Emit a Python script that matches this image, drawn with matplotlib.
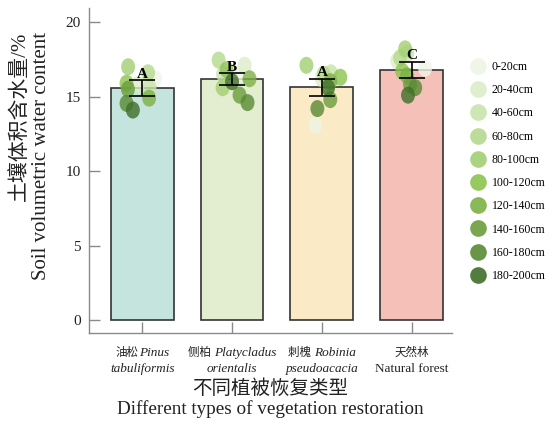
import matplotlib
matplotlib.use('Agg')
import matplotlib.pyplot as plt
import numpy as np
from matplotlib.path import Path
from matplotlib.transforms import Affine2D, blended_transform_factory
from matplotlib.lines import Line2D
from matplotlib.offsetbox import TextArea, HPacker, VPacker, AnnotationBbox

# ---------------- data ----------------
cn_names = ['油松', '侧柏 ', '刺槐 ', '天然林']
latin_line1 = ['Pinus', 'Platycladus', 'Robinia', '']
latin_line2 = ['tabuliformis', 'orientalis', 'pseudoacacia', 'Natural forest']
means = [15.57, 16.17, 15.64, 16.78]
errors = [0.53, 0.42, 0.57, 0.56]
letters = ['A', 'B', 'A', 'C']
depths = ['0-20cm', '20-40cm', '40-60cm', '60-80cm', '80-100cm',
          '100-120cm', '120-140cm', '140-160cm', '160-180cm', '180-200cm']
# soil water content by depth (same order as depths)
pinus = [16.2, 15.8, 15.6, 16.6, 17.0, 15.9, 14.9, 15.5, 14.55, 14.1]
platycladus = [16.4, 17.1, 16.5, 17.45, 15.6, 16.8, 16.2, 15.1, 14.6, 16.0]
robinia = [13.1, 16.2, 16.6, 16.5, 17.1, 16.3, 16.0, 14.8, 14.2, 15.6]
natural = [16.9, 17.4, 17.9, 17.6, 18.2, 16.7, 16.4, 15.8, 15.6, 15.1]
yticks = [0, 5, 10, 15, 20]

# ---------------- styles ----------------
bar_colors = ['#c5e4dd', '#e3edcf', '#faeac6', '#f5c0b8']
depth_colors = ['#eef5e6', '#dcedc8', '#c9e4ab', '#b5da8e', '#a2d072',
                '#8cc350', '#7cb145', '#6a9d3c', '#588a33', '#3f6f29']
# horizontal jitter of points (fraction of category spacing)
jitters = [
    [0.139, -0.05, 0.08, 0.064, -0.158, -0.176, 0.076, -0.16, -0.176, -0.105],
    [0.05, 0.139, -0.10, -0.15, -0.105, -0.06, 0.194, 0.083, 0.172, 0.0],
    [-0.072, 0.0, 0.10, 0.02, -0.172, 0.206, 0.094, 0.094, -0.05, 0.07],
    [0.15, -0.16, -0.05, -0.128, -0.072, -0.105, -0.05, -0.017, 0.04, -0.04],
]
series = [pinus, platycladus, robinia, natural]

SERIF = 'Liberation Serif'
CJK = 'Noto Sans CJK SC'
MIX = [SERIF, CJK]

W, H = 549, 423
fig = plt.figure(figsize=(W / 100, H / 100), dpi=100)
ax = fig.add_axes([89 / W, 1 - 333 / H, (452 - 89) / W, (333 - 8) / H])

x = np.arange(len(means))
ax.bar(x, means, width=0.7, color=bar_colors, edgecolor='#333333',
       linewidth=1.2, zorder=1)

ell = Path.unit_circle().transformed(Affine2D().scale(0.82, 1.0))
for i, vals in enumerate(series):
    xs = x[i] + np.array(jitters[i])
    ax.scatter(xs, vals, s=150, marker=ell, c=depth_colors, alpha=0.8,
               linewidths=0, zorder=2)

ax.errorbar(x, means, yerr=errors, fmt='none', ecolor='black', capsize=9.5,
            elinewidth=1.2, capthick=1.2, zorder=4)
for i in range(len(means)):
    ax.text(x[i], means[i] + errors[i] - 0.05, letters[i], ha='center',
            va='bottom', fontweight='bold', family=SERIF, fontsize=11,
            zorder=5)

ax.set_xlim(-0.594, 3.45)
ax.set_ylim(-0.84, 20.94)
for s in ['top', 'right']:
    ax.spines[s].set_visible(False)
for s in ['left', 'bottom']:
    ax.spines[s].set_color('#8a8a8a')
    ax.spines[s].set_linewidth(1.0)
ax.set_yticks(yticks)
ax.set_yticklabels([str(v) for v in yticks], family=SERIF, fontsize=11,
                   color='#222222')
ax.set_xticks(x)
ax.set_xticklabels([''] * len(x))
ax.tick_params(axis='both', direction='in', length=8, width=1.0,
               color='#8a8a8a')
ax.tick_params(axis='y', pad=6)

# x tick labels (mixed CJK + italic Latin)
trans = blended_transform_factory(ax.transData, ax.transAxes)
for i in range(len(x)):
    parts = [TextArea(cn_names[i], textprops=dict(family=CJK, fontsize=8.3,
                                                    color='#222222'))]
    if latin_line1[i]:
        parts.append(TextArea(latin_line1[i], textprops=dict(
            family=SERIF, style='italic', fontsize=9.5, color='#222222')))
    line1 = HPacker(children=parts, align='baseline', pad=0, sep=0)
    style2 = 'normal' if i == 3 else 'italic'
    line2 = TextArea(latin_line2[i], textprops=dict(
        family=SERIF, style=style2, fontsize=9.5, color='#222222'))
    box = VPacker(children=[line1, line2], align='center', pad=0, sep=2.5)
    ab = AnnotationBbox(box, (x[i], 0), xycoords=trans, xybox=(0, -9.5),
                        boxcoords='offset points', box_alignment=(0.5, 1),
                        frameon=False, pad=0)
    ax.add_artist(ab)

# axis titles
fig.text(270 / W, 1 - 388 / H, '不同植被恢复类型', family=CJK, fontsize=14,
         ha='center', va='center', color='#222222')
fig.text(270 / W, 1 - 409 / H, 'Different types of vegetation restoration',
         family=SERIF, fontsize=13.8, ha='center', va='center',
         color='#222222')
fig.text(20 / W, 1 - 32 / H, '土壤体积含水量/%', family=MIX, fontsize=15,
         rotation=90, ha='center', va='top', color='#222222')
fig.text(42 / W, 1 - 32 / H, 'Soil volumetric water content', family=SERIF,
         fontsize=15, rotation=90, ha='center', va='top', color='#222222')

# legend
handles = [Line2D([], [], marker='o', linestyle='none', markersize=12,
                  markerfacecolor=c, markeredgecolor='none', alpha=0.9)
           for c in depth_colors]
fig.legend(handles, depths, loc='upper left',
           bbox_to_anchor=(471 / W, 1 - 61 / H), frameon=False,
           prop={'family': SERIF, 'size': 8.5}, labelspacing=0.95,
           handlelength=1.2, handletextpad=0.55, borderpad=0,
           borderaxespad=0)

fig.savefig('out.png', dpi=100)
